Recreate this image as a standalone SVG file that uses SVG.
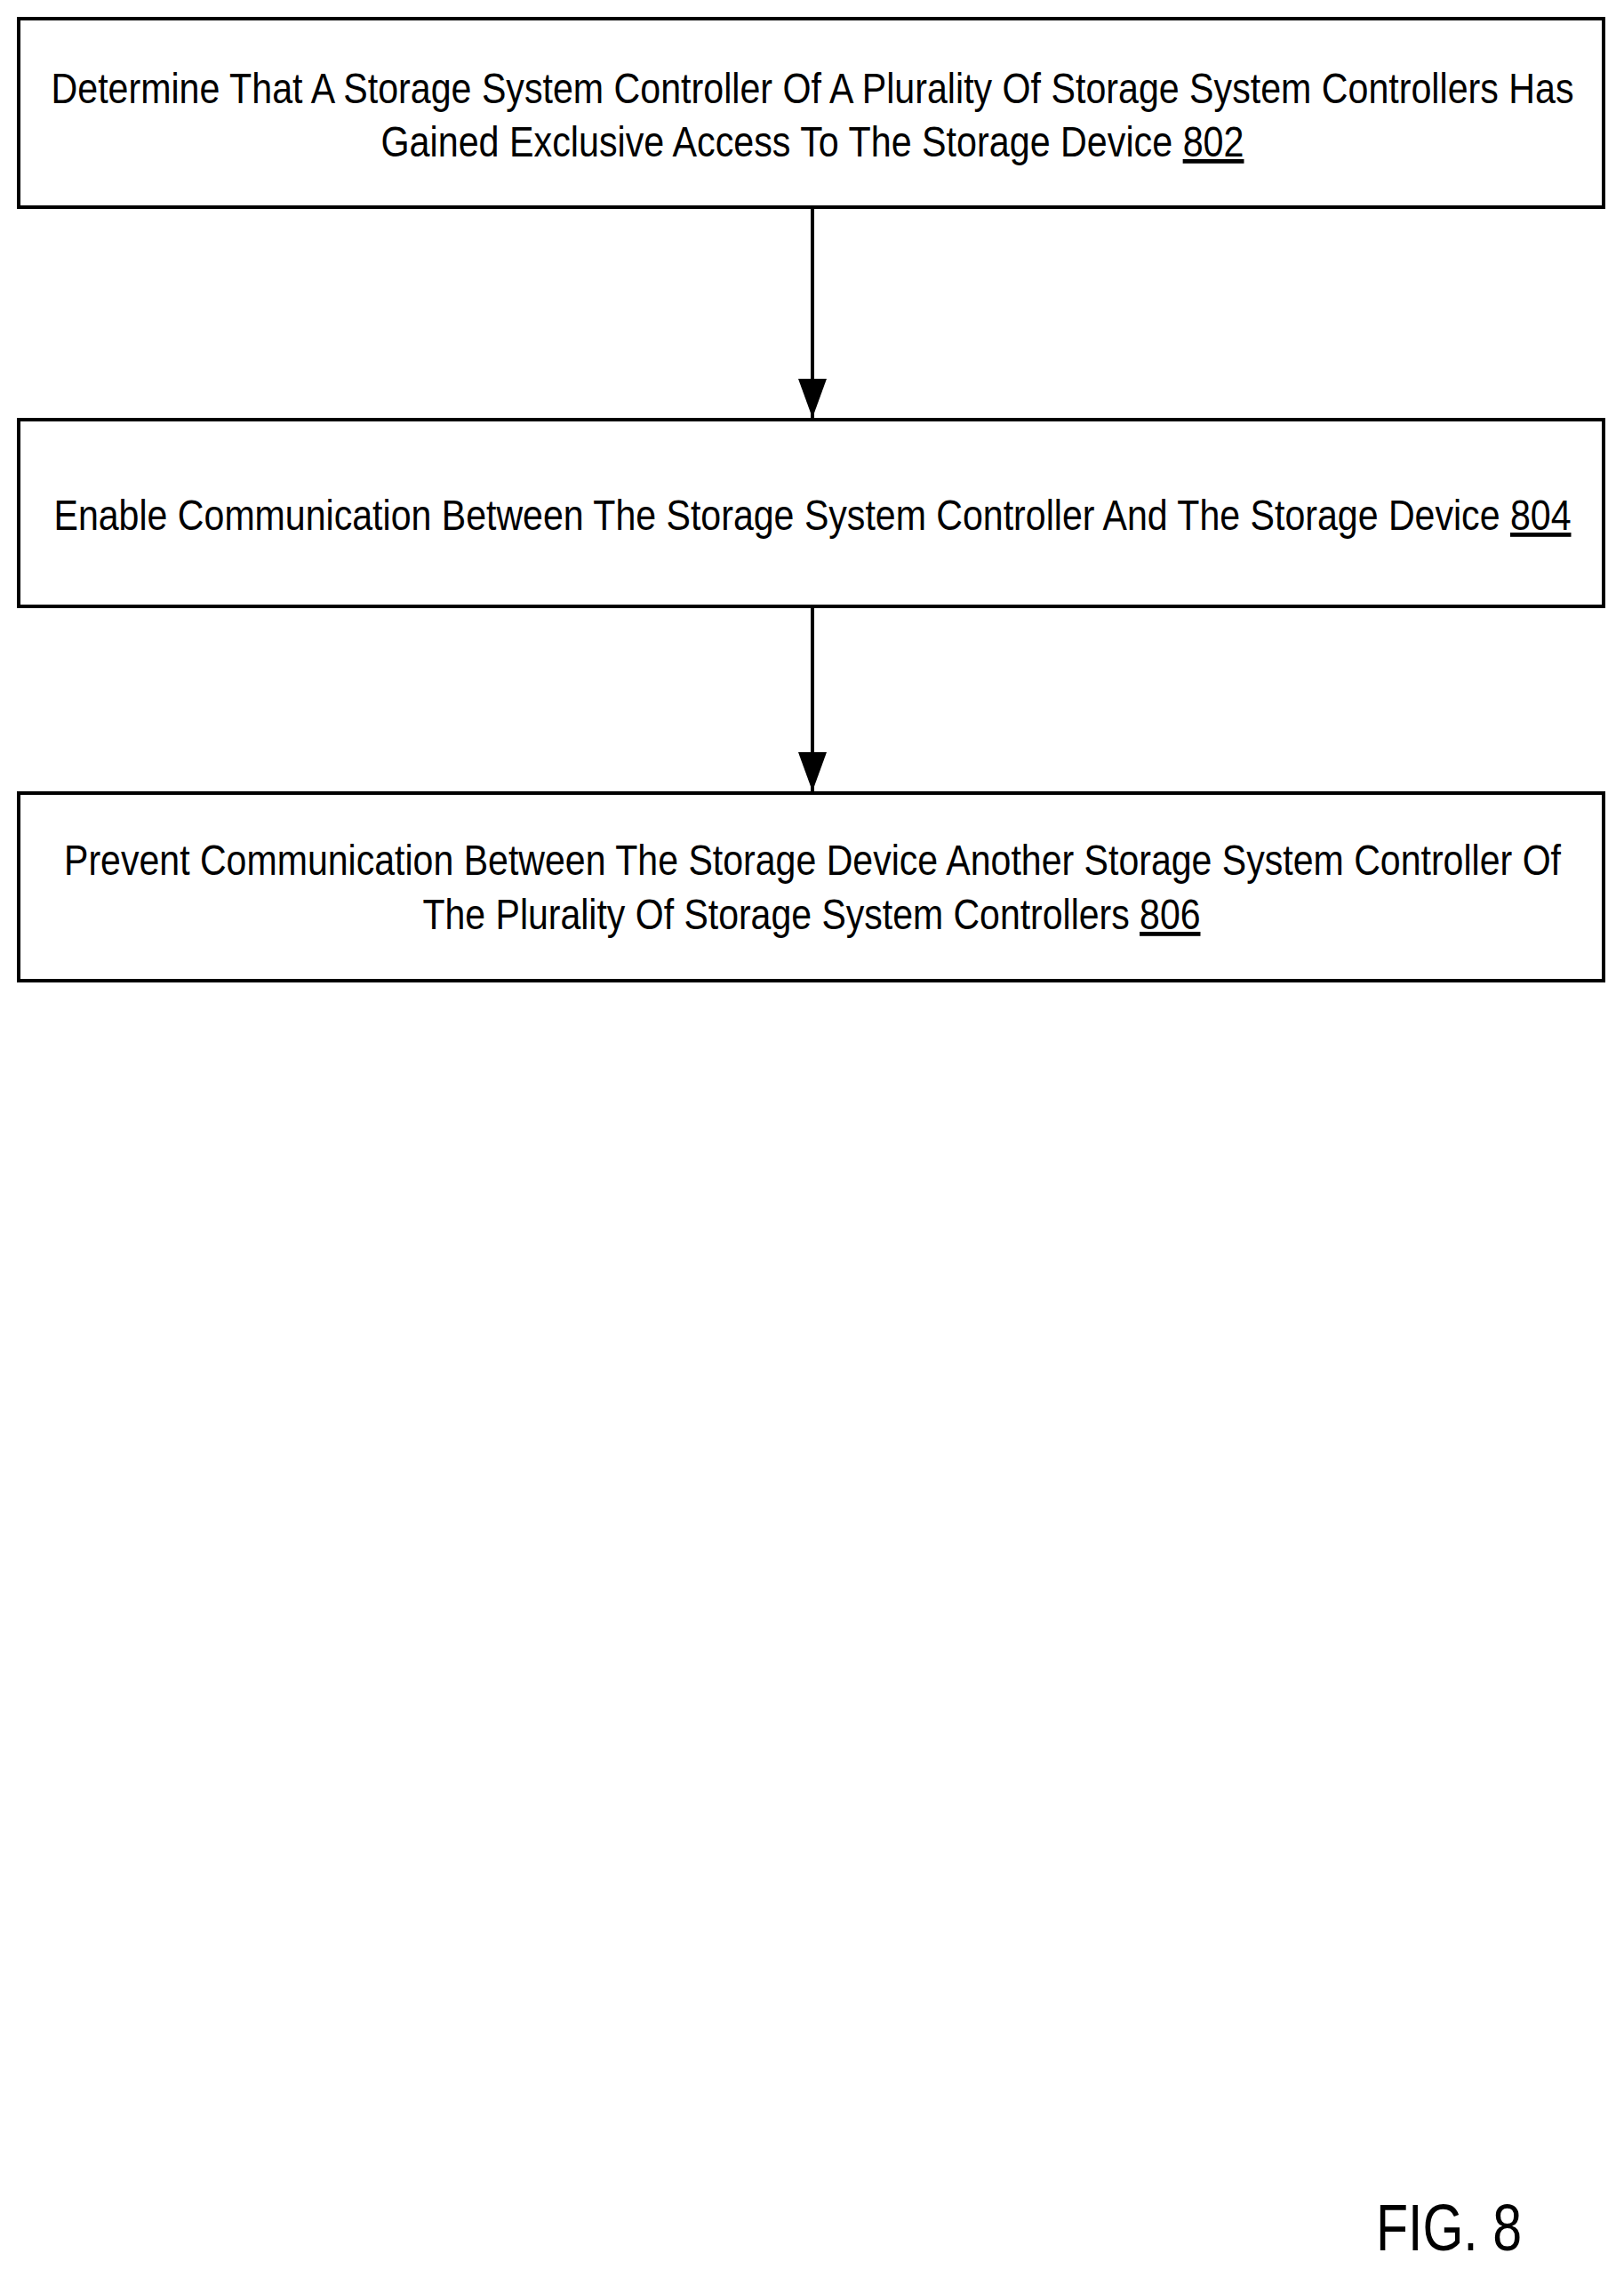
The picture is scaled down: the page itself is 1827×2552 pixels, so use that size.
<svg xmlns="http://www.w3.org/2000/svg" width="1827" height="2552" viewBox="0 0 1827 2552">
<style>
.box{fill:#fff;stroke:#000;stroke-width:4}
.t{font-family:"Liberation Sans Narrow","Liberation Sans",Arial,sans-serif;font-size:48px;fill:#000;text-anchor:middle}
.u{text-decoration:underline}
.c{stroke:#000;stroke-width:4;fill:none}
</style>
<defs><marker id="ah" markerWidth="44" markerHeight="32" refX="44" refY="16" orient="auto" markerUnits="userSpaceOnUse" viewBox="0 0 44 32"><path d="M0 0 L44 16 L0 32 Z" fill="#000"/></marker></defs>
<rect width="1827" height="2552" fill="#fff"/>
<g id="connectors">
<line class="c" x1="914" y1="235" x2="914" y2="470" marker-end="url(#ah)"/>
<line class="c" x1="914" y1="684" x2="914" y2="890" marker-end="url(#ah)"/>
</g>
<g id="n802"><rect class="box" x="21" y="21" width="1783" height="212"/>
<text class="t" x="914" y="116" textLength="1713" lengthAdjust="spacingAndGlyphs">Determine That A Storage System Controller Of A Plurality Of Storage System Controllers Has</text>
<text class="t" x="914" y="176" textLength="971" lengthAdjust="spacingAndGlyphs">Gained Exclusive Access To The Storage Device <tspan class="u">802</tspan></text></g>
<g id="n804"><rect class="box" x="21" y="472" width="1783" height="210"/>
<text class="t" x="914" y="596" textLength="1707" lengthAdjust="spacingAndGlyphs">Enable Communication Between The Storage System Controller And The Storage Device <tspan class="u">804</tspan></text></g>
<g id="n806"><rect class="box" x="21" y="892" width="1783" height="211"/>
<text class="t" x="914" y="984" textLength="1684" lengthAdjust="spacingAndGlyphs">Prevent Communication Between The Storage Device Another Storage System Controller Of</text>
<text class="t" x="913" y="1045" textLength="875" lengthAdjust="spacingAndGlyphs">The Plurality Of Storage System Controllers <tspan class="u">806</tspan></text></g>
<text x="1548" y="2531" font-family="Liberation Sans,Arial,sans-serif" font-size="74" textLength="164" lengthAdjust="spacingAndGlyphs">FIG. 8</text>
</svg>
